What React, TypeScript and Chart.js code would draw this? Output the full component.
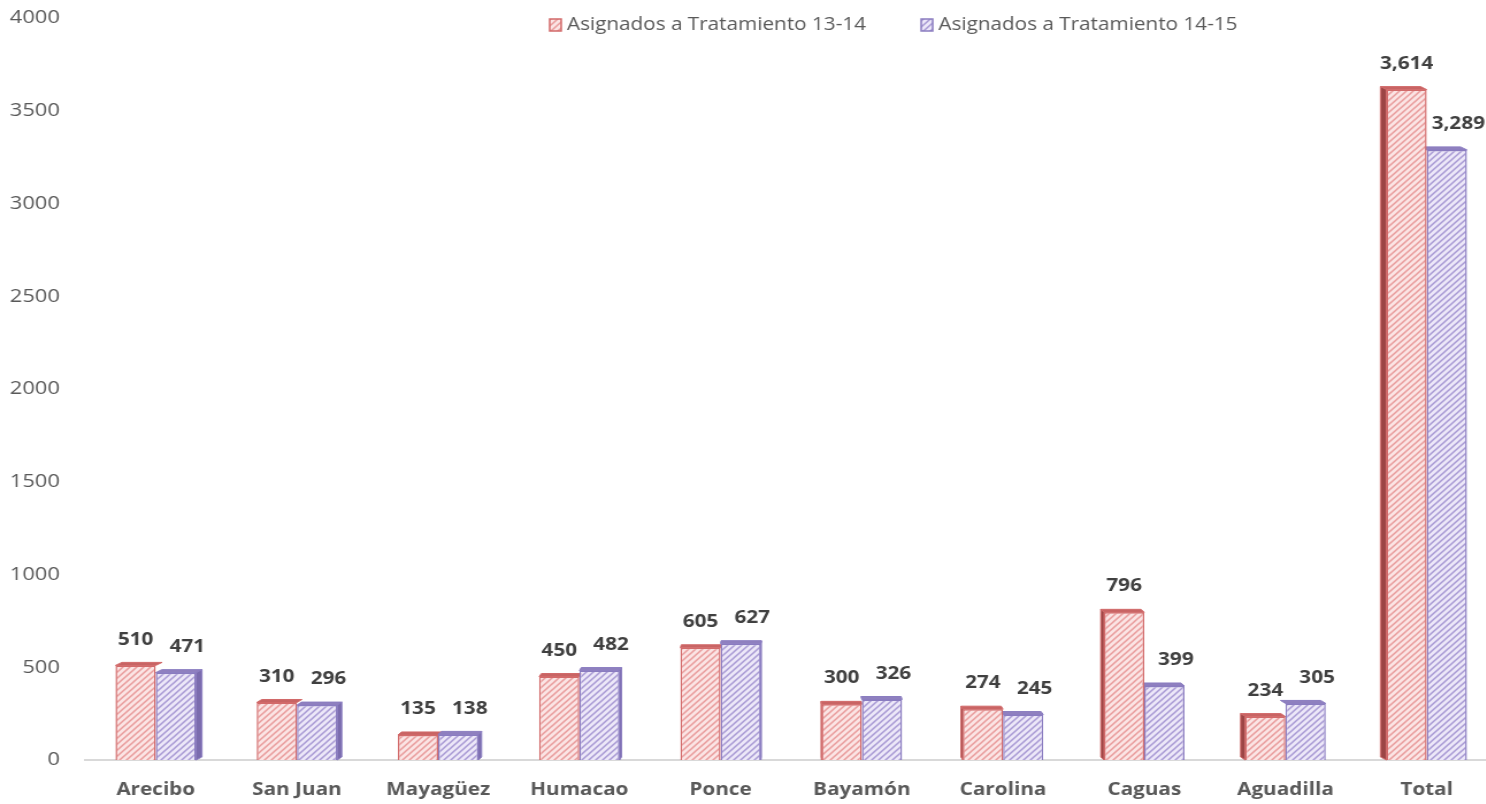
import React, { useEffect, useRef } from "react";
import { Chart, registerables } from "chart.js";

Chart.register(...registerables);

const categories = ["Arecibo", "San Juan", "Mayagüez", "Humacao", "Ponce", "Bayamón", "Carolina", "Caguas", "Aguadilla", "Total"];
const series1Label = "Asignados a Tratamiento 13-14";
const series2Label = "Asignados a Tratamiento 14-15";
const series1 = [510, 310, 135, 450, 605, 300, 274, 796, 234, 3614];
const series2 = [471, 296, 138, 482, 627, 326, 245, 399, 305, 3289];
const yTicks = { min: 0, max: 4000, step: 500 };

const FONT = '"Open Sans", "Noto Sans", sans-serif';

function makePattern(bg: string, line: string) {
  const c = document.createElement("canvas");
  c.width = 6;
  c.height = 6;
  const g = c.getContext("2d")!;
  g.fillStyle = bg;
  g.fillRect(0, 0, 6, 6);
  g.strokeStyle = line;
  g.lineWidth = 1.5;
  g.beginPath();
  g.moveTo(-1, 7);
  g.lineTo(7, -1);
  g.moveTo(-4, 4);
  g.lineTo(4, -4);
  g.moveTo(2, 10);
  g.lineTo(10, 2);
  g.stroke();
  return g.createPattern(c, "repeat")!;
}

const STYLE = [
  { bg: "#fbe4e4", line: "#e99c9c", border: "#d26a6a", top: "#c86464", side: "#9c4545" },
  { bg: "#ece7f8", line: "#a89ad4", border: "#8a7cc0", top: "#8f80bf", side: "#7b6cae" },
];

export default function App() {
  const ref = useRef<HTMLCanvasElement | null>(null);

  useEffect(() => {
    if (!ref.current) return;
    const p1 = makePattern(STYLE[0].bg, STYLE[0].line);
    const p2 = makePattern(STYLE[1].bg, STYLE[1].line);
    const patterns = [p1, p2];

    const threeD = {
      id: "threeD",
      beforeDatasetsDraw(chart: any) {
        const ctx = chart.ctx;
        const area = chart.chartArea;
        const cx = (area.left + area.right) / 2;
        const half = (area.right - area.left) / 2;
        ctx.save();
        for (let d = 0; d < 2; d++) {
          const meta = chart.getDatasetMeta(d);
          meta.data.forEach((bar: any) => {
            const w = bar.width;
            const left = bar.x - w / 2;
            const right = bar.x + w / 2;
            const top = bar.y;
            const bottom = bar.base;
            const dx = ((cx - bar.x) / half) * 6;
            const dy = 3;
            ctx.lineWidth = 1;
            ctx.strokeStyle = STYLE[d].border;
            ctx.beginPath();
            ctx.moveTo(left, top);
            ctx.lineTo(right, top);
            ctx.lineTo(right + dx, top - dy);
            ctx.lineTo(left + dx, top - dy);
            ctx.closePath();
            ctx.fillStyle = STYLE[d].top;
            ctx.fill();
            ctx.stroke();
            if (dx > 0 && d === 1) {
              ctx.beginPath();
              ctx.moveTo(right, top);
              ctx.lineTo(right + dx, top - dy);
              ctx.lineTo(right + dx, bottom - dy);
              ctx.lineTo(right, bottom);
              ctx.closePath();
              ctx.fillStyle = STYLE[d].side;
              ctx.fill();
              ctx.stroke();
            } else if (dx < 0 && d === 0) {
              ctx.beginPath();
              ctx.moveTo(left, top);
              ctx.lineTo(left + dx, top - dy);
              ctx.lineTo(left + dx, bottom - dy);
              ctx.lineTo(left, bottom);
              ctx.closePath();
              ctx.fillStyle = STYLE[d].side;
              ctx.fill();
              ctx.stroke();
            }
          });
        }
        ctx.restore();
      },
    };

    const dataLabels = {
      id: "dataLabels",
      afterDatasetsDraw(chart: any) {
        const ctx = chart.ctx;
        ctx.save();
        ctx.font = `bold 18px ${FONT}`;
        ctx.fillStyle = "#404040";
        ctx.textAlign = "center";
        ctx.textBaseline = "middle";
        for (let d = 0; d < 2; d++) {
          const meta = chart.getDatasetMeta(d);
          const vals = chart.data.datasets[d].data as number[];
          meta.data.forEach((bar: any, i: number) => {
            const txt = vals[i].toLocaleString("en-US");
            ctx.fillText(txt, bar.x + (d === 1 ? 10 : 0), bar.y - 26);
          });
        }
        ctx.restore();
      },
    };

    const legend = {
      id: "customLegend",
      afterDraw(chart: any) {
        const ctx = chart.ctx;
        ctx.save();
        const items = [
          { x: 478, label: series1Label },
          { x: 801, label: series2Label },
        ];
        const y = 25;
        items.forEach((it, d) => {
          ctx.fillStyle = patterns[d];
          ctx.fillRect(it.x, y - 6, 10, 12);
          ctx.strokeStyle = STYLE[d].border;
          ctx.lineWidth = 1.5;
          ctx.strokeRect(it.x, y - 6, 10, 12);
          ctx.font = `18px ${FONT}`;
          ctx.fillStyle = "#595959";
          ctx.textAlign = "left";
          ctx.textBaseline = "middle";
          ctx.fillText(it.label, it.x + 15, y);
        });
        ctx.restore();
      },
    };

    const chart = new Chart(ref.current, {
      type: "bar",
      data: {
        labels: categories,
        datasets: [
          {
            label: series1Label,
            data: series1,
            backgroundColor: p1,
            borderColor: STYLE[0].border,
            borderWidth: 1.5,
            categoryPercentage: 0.57,
            barPercentage: 1,
          },
          {
            label: series2Label,
            data: series2,
            backgroundColor: p2,
            borderColor: STYLE[1].border,
            borderWidth: 1.5,
            categoryPercentage: 0.57,
            barPercentage: 1,
          },
        ],
      },
      options: {
        responsive: true,
        maintainAspectRatio: false,
        animation: false,
        layout: { padding: { top: 18, right: 2, left: 0, bottom: 0 } },
        plugins: {
          legend: { display: false },
          tooltip: { enabled: false },
        },
        scales: {
          x: {
            grid: { display: false, drawTicks: false },
            border: { display: true, color: "#d9d9d9", width: 2 },
            ticks: {
              font: { family: FONT, size: 18, weight: "bold" },
              color: "#595959",
              padding: 19,
              maxRotation: 0,
            },
            afterFit: (s: any) => {
              s.height = 44;
            },
          },
          y: {
            min: yTicks.min,
            max: yTicks.max,
            grid: { display: false, drawTicks: false },
            border: { display: false },
            ticks: {
              stepSize: yTicks.step,
              font: { family: FONT, size: 19 },
              color: "#595959",
              padding: 22,
              callback: (v: any) => String(v),
            },
            afterFit: (s: any) => {
              s.width = 74;
              s.paddingTop = 0;
              s.paddingBottom = 0;
            },
          },
        },
      },
      plugins: [threeD, dataLabels, legend],
    });

    return () => chart.destroy();
  }, []);

  return (
    <div
      style={{
        position: "fixed",
        left: 0,
        top: 0,
        width: 1304,
        height: 804,
        transform: "scaleX(1.15)",
        transformOrigin: "0 0",
      }}
    >
      <canvas ref={ref} />
    </div>
  );
}
